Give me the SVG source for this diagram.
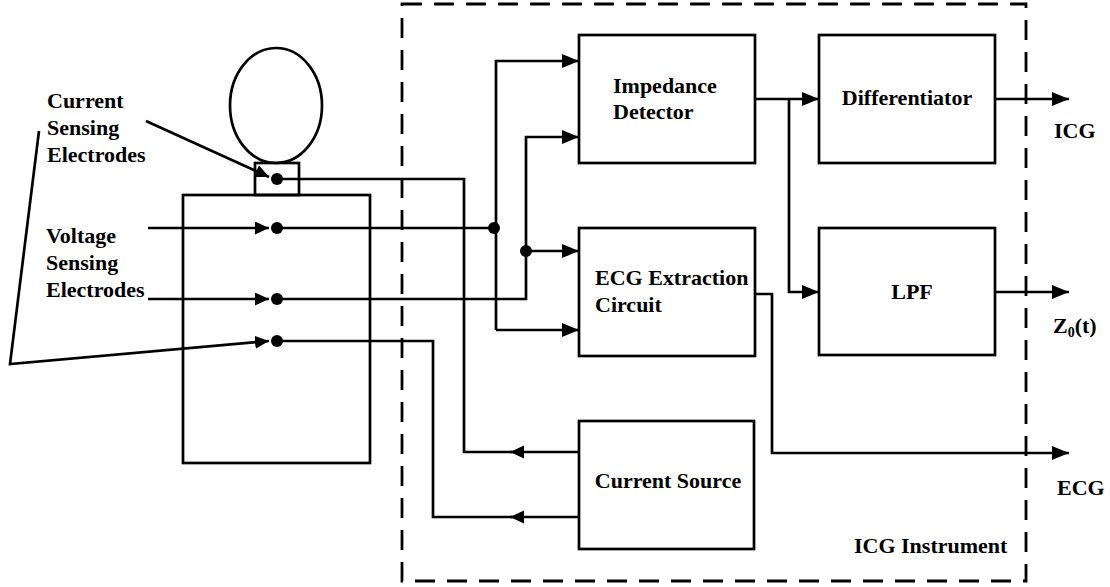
<svg xmlns="http://www.w3.org/2000/svg" width="1110" height="587" viewBox="0 0 1110 587">
  <style>
    .box { fill: #fff; stroke: #000; stroke-width: 2.7; }
    .ln { fill: none; stroke: #000; stroke-width: 2.7; }
    .dash { fill: none; stroke: #000; stroke-width: 2.8; stroke-dasharray: 20 12; }
    .t { font-family: "Liberation Serif", "Times New Roman", serif; font-weight: bold; font-size: 22px; fill: #000; }
    .mid { text-anchor: middle; }
    .dot { fill: #000; }
  </style>
  <defs>
    <marker id="arr" markerUnits="userSpaceOnUse" markerWidth="18" markerHeight="15" refX="17" refY="7" orient="auto">
      <path d="M0,0 L17,7 L0,14 z" fill="#000"/>
    </marker>
    <marker id="arrs" markerUnits="userSpaceOnUse" markerWidth="15" markerHeight="14" refX="14" refY="6.5" orient="auto">
      <path d="M0,0 L14,6.5 L0,13 z" fill="#000"/>
    </marker>
  </defs>
  <rect width="1110" height="587" fill="#fff"/>

  <g id="instrument-frame">
    <rect class="dash" x="402" y="4" width="624" height="577"/>
    <text class="t" x="854" y="553">ICG Instrument</text>
  </g>

  <g id="body">
    <ellipse class="ln" cx="276" cy="105.5" rx="46" ry="57.5"/>
    <rect class="ln" x="255" y="163" width="44" height="32"/>
    <rect class="ln" x="183" y="195" width="187" height="268"/>
  </g>

  <g id="label-current-sensing">
    <text class="t" x="47" y="108">Current</text>
    <text class="t" x="47" y="135">Sensing</text>
    <text class="t" x="47" y="162">Electrodes</text>
  </g>
  <g id="label-voltage-sensing">
    <text class="t" x="46" y="243">Voltage</text>
    <text class="t" x="46" y="270">Sensing</text>
    <text class="t" x="46" y="297">Electrodes</text>
  </g>

  <g id="impedance-detector">
    <rect class="box" x="579" y="35" width="176" height="128"/>
    <text class="t" x="613" y="93">Impedance</text>
    <text class="t" x="613" y="119">Detector</text>
  </g>
  <g id="differentiator">
    <rect class="box" x="819" y="35" width="176" height="128"/>
    <text class="t mid" x="907" y="105">Differentiator</text>
  </g>
  <g id="ecg-extraction">
    <rect class="box" x="579" y="228" width="176" height="128"/>
    <text class="t" x="595" y="285">ECG Extraction</text>
    <text class="t" x="595" y="312">Circuit</text>
  </g>
  <g id="lpf">
    <rect class="box" x="819" y="228" width="176" height="127"/>
    <text class="t mid" x="912" y="299">LPF</text>
  </g>
  <g id="current-source">
    <rect class="box" x="579" y="421" width="175" height="128"/>
    <text class="t mid" x="668" y="488">Current Source</text>
  </g>

  <g id="connectors">
    <!-- electrode pointer lines -->
    <path class="ln" d="M146,121 L269,177" marker-end="url(#arrs)"/>
    <path class="ln" d="M148,228 L269,228" marker-end="url(#arrs)"/>
    <path class="ln" d="M148,299 L269,299" marker-end="url(#arrs)"/>
    <path class="ln" d="M39,131 L10,364 L269,341" marker-end="url(#arrs)"/>

    <!-- electrode dots -->
    <circle class="dot" cx="277" cy="179" r="6"/>
    <circle class="dot" cx="277" cy="228" r="6"/>
    <circle class="dot" cx="277" cy="299" r="6"/>
    <circle class="dot" cx="277" cy="341" r="6"/>

    <!-- current electrodes to current source -->
    <path class="ln" d="M277,179 L464,179 L464,452 L512,452"/>
    <path class="ln" d="M579,452 L510,452" marker-end="url(#arrs)"/>
    <path class="ln" d="M277,341 L433,341 L433,517 L512,517"/>
    <path class="ln" d="M579,517 L510,517" marker-end="url(#arrs)"/>

    <!-- voltage electrode 1 -->
    <path class="ln" d="M277,228 L496,228"/>
    <circle class="dot" cx="494" cy="228" r="6"/>
    <path class="ln" d="M496,330 L496,61 L579,61" marker-end="url(#arr)"/>
    <path class="ln" d="M496,330 L579,330" marker-end="url(#arr)"/>

    <!-- voltage electrode 2 -->
    <path class="ln" d="M277,299 L526,299 L526,137 L579,137" marker-end="url(#arr)"/>
    <circle class="dot" cx="526" cy="251" r="6"/>
    <path class="ln" d="M526,251 L579,251" marker-end="url(#arr)"/>

    <!-- impedance detector outputs -->
    <path class="ln" d="M755,99 L819,99" marker-end="url(#arr)"/>
    <path class="ln" d="M789,99 L789,292 L819,292" marker-end="url(#arr)"/>

    <!-- outputs -->
    <path class="ln" d="M995,99 L1069,99" marker-end="url(#arr)"/>
    <path class="ln" d="M995,292 L1069,292" marker-end="url(#arr)"/>
    <path class="ln" d="M755,294 L772,294 L772,453 L1069,453" marker-end="url(#arr)"/>
  </g>

  <g id="output-labels">
    <text class="t" x="1054" y="138">ICG</text>
    <text class="t" x="1053" y="333">Z<tspan font-size="14" dy="4">0</tspan><tspan dy="-4">(t)</tspan></text>
    <text class="t" x="1057" y="495">ECG</text>
  </g>
</svg>
